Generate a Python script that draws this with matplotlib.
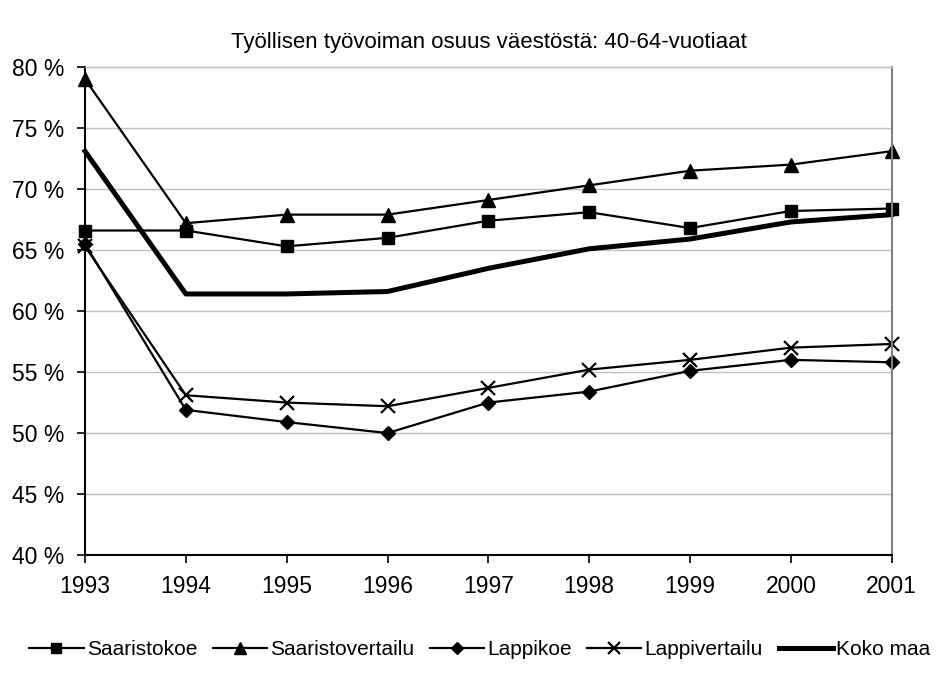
import numpy as np
import matplotlib.pyplot as plt
from matplotlib.ticker import FuncFormatter

plt.rcParams['font.family'] = ['Liberation Sans', 'DejaVu Sans']

# Data (share of employed labour force, %)
years = [1993, 1994, 1995, 1996, 1997, 1998, 1999, 2000, 2001]
saaristokoe = [66.6, 66.6, 65.3, 66.0, 67.4, 68.1, 66.8, 68.2, 68.4]
saaristovertailu = [79.0, 67.2, 67.9, 67.9, 69.1, 70.3, 71.5, 72.0, 73.1]
lappikoe = [65.5, 51.9, 50.9, 50.0, 52.5, 53.4, 55.1, 56.0, 55.8]
lappivertailu = [65.3, 53.1, 52.5, 52.2, 53.7, 55.2, 56.0, 57.0, 57.3]
koko_maa = [73.1, 61.4, 61.4, 61.6, 63.5, 65.1, 65.9, 67.3, 67.9]

fig = plt.figure(figsize=(9.37, 6.87), dpi=100)
ax = fig.add_axes([0.0907, 0.192, 0.861, 0.7105])

ax.plot(years, saaristokoe, color='black', lw=1.6, marker='s', ms=9, label='Saaristokoe')
ax.plot(years, saaristovertailu, color='black', lw=1.6, marker='^', ms=10, label='Saaristovertailu')
ax.plot(years, lappikoe, color='black', lw=1.6, marker='D', ms=7, label='Lappikoe')
ax.plot(years, lappivertailu, color='black', lw=1.6, marker='x', ms=10, mew=1.6, label='Lappivertailu')
ax.plot(years, koko_maa, color='black', lw=3.6, label='Koko maa')

ax.set_xlim(1993, 2001)
ax.set_ylim(40, 80)
ax.set_xticks(years)
ax.set_yticks(np.arange(40, 81, 5))
ax.yaxis.set_major_formatter(FuncFormatter(lambda v, p: f'{v:.0f} %'))
ax.tick_params(axis='both', labelsize=16.5, direction='out', length=6, width=1.2, color='black')
ax.tick_params(axis='x', pad=8)
ax.tick_params(axis='y', pad=9)

ax.grid(axis='y', color='#c0c0c0', lw=1)
ax.set_axisbelow(True)
for s in ['left', 'bottom']:
    ax.spines[s].set_color('black')
    ax.spines[s].set_linewidth(1.5)
ax.spines['right'].set_color('#808080')
ax.spines['right'].set_linewidth(1.5)
ax.spines['top'].set_color('#c0c0c0')
ax.spines['top'].set_linewidth(1.0)
for ln in ax.lines:
    ln.set_clip_on(False)

fig.text(0.522, 0.938, 'Työllisen työvoiman osuus väestöstä: 40-64-vuotiaat',
         ha='center', va='center', fontsize=16)

fig.legend(loc='center', bbox_to_anchor=(0.512, 0.054), ncol=5, frameon=False,
           fontsize=15, handlelength=2.6, handletextpad=0.15, columnspacing=0.75,
           markerscale=0.85)

fig.savefig('out.png', dpi=100)
